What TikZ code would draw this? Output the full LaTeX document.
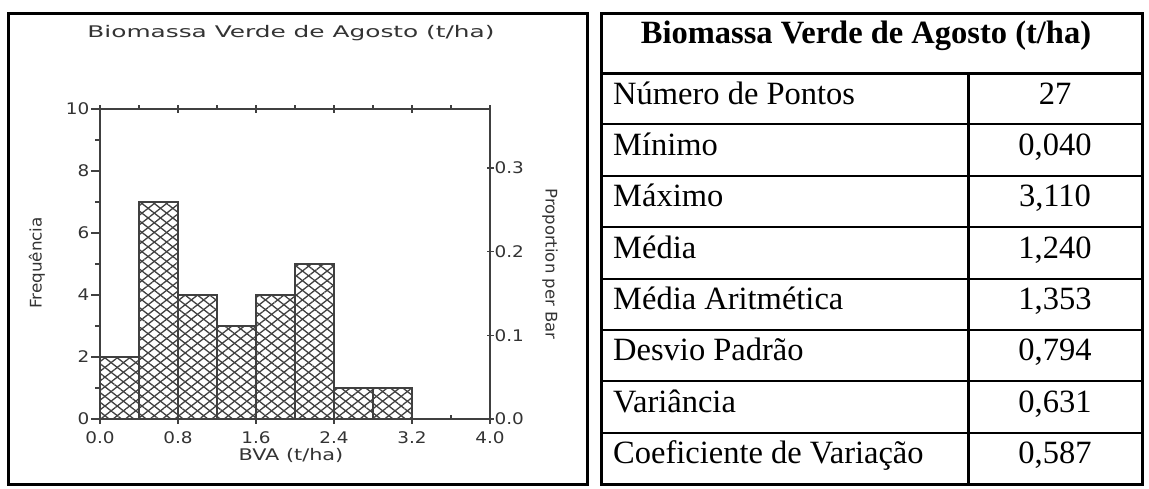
\documentclass[tikz,border=0pt]{standalone}
\usepackage{fontspec}
\setmainfont{Liberation Serif}
\newfontfamily\chartsans{DejaVu Sans}
\usetikzlibrary{patterns.meta}
\newcommand{\wide}[2][1.15]{\scalebox{#1}[1]{#2}}
\tikzset{
  frame/.style={line width=3pt},
  axis/.style={draw=black!75, line width=1.3pt},
  hatch/.style={pattern={Lines[angle=#1,distance=7.6pt,line width=1.3pt]}, pattern color=black!75},
  chartlabel/.style={font=\chartsans\fontsize{16}{19}\selectfont, text=black!80, inner sep=0pt},
  cell/.style={font=\fontsize{32.5}{37}\selectfont, inner sep=0pt}
}
\begin{document}
\begin{tikzpicture}[x=1pt,y=-1pt]
  \useasboundingbox (0,0) rectangle (1149,488);

  % Frames
  \draw[frame] (8,13) rectangle (587,484);
  \draw[frame] (601,13) rectangle (1142,484);

  % Bars
  \foreach \c [count=\i from 0] in {2,7,4,3,4,5,1,1}{
    \fill[hatch=38] (100+39*\i,419) rectangle (139+39*\i,419-31*\c);
    \fill[hatch=142] (100+39*\i,419) rectangle (139+39*\i,419-31*\c);
    \draw[axis] (100+39*\i,419) rectangle (139+39*\i,419-31*\c);
  }

  % Axes
  \draw[axis] (100,109) rectangle (490,419);
  \foreach \v in {0,2,...,10}
    \draw[axis] (100,419-31*\v) -- (91,419-31*\v)
      node[chartlabel, anchor=east, xshift=-1pt] (yl\v) {\wide{\v}};
  \foreach \v in {1,3,...,9}
    \draw[axis] (100,419-31*\v) -- (95,419-31*\v);
  \foreach \v/\t in {0/0.0,1/0.8,2/1.6,3/2.4,4/3.2,5/4.0}{
    \draw[axis] (100+78*\v,419) -- (100+78*\v,424);
    \draw[axis] (100+78*\v,105) -- (100+78*\v,113);
    \node[chartlabel, anchor=north] (xl\v) at (100+78*\v,431) {\wide{\t}};
  }
  \foreach \v in {0,...,4}{
    \draw[axis] (139+78*\v,419) -- (139+78*\v,415);
    \draw[axis] (139+78*\v,109) -- (139+78*\v,105);
  }
  \foreach \p in {0,1,2,3}
    \draw[axis] (487,419-83.7*\p) -- (494,419-83.7*\p)
      node[chartlabel, anchor=west] (pl\p) {\wide{0.\p}};

  % Labels
  \node[chartlabel, anchor=base] (title) at (291,37)
    {\wide[1.55]{Biomassa Verde de Agosto (t/ha)}};
  \node[chartlabel] (bva) at (291,455) {\wide[1.3]{BVA (t/ha)}};
  \node[chartlabel, rotate=90] (freq) at (37,263) {\wide[1.05]{Frequência}};
  \node[chartlabel, rotate=-90] (prop) at (550,264) {\wide[1.03]{Proportion per Bar}};

  % Table
  \node[cell, font=\fontsize{32.5}{37}\selectfont\bfseries, anchor=base] (head) at (866,43)
    {Biomassa Verde de Agosto (t/ha)};
  \draw[frame] (601,73) -- (1142,73);
  \draw[frame] (968,73) -- (968,484);
  \foreach \k in {1,...,7}
    \draw[line width=2pt] (601,73+51.375*\k) -- (1142,73+51.375*\k);
  \foreach \a/\b [count=\k from 0] in {Número de Pontos/27, Mínimo/{0,040}, Máximo/{3,110},
      Média/{1,240}, Média Aritmética/{1,353}, Desvio Padrão/{0,794},
      Variância/{0,631}, Coeficiente de Variação/{0,587}}{
    \node[cell, anchor=base west] (r\k) at (613,104+51.375*\k) {\a};
    \node[cell, anchor=base] (v\k) at (1055,104+51.375*\k) {\b};
  }
\end{tikzpicture}
\end{document}
